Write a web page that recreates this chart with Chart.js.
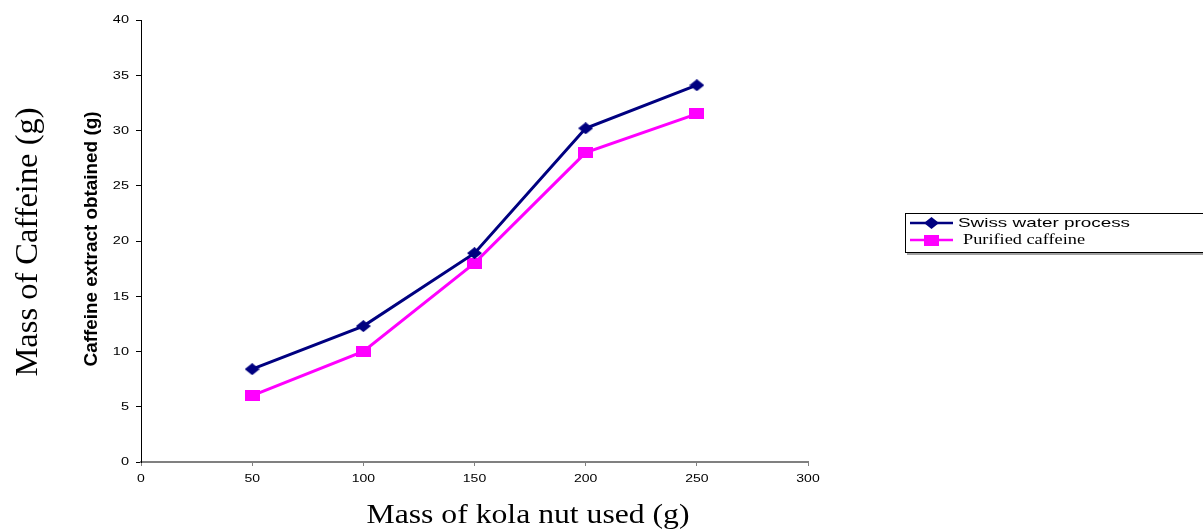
<!DOCTYPE html>
<html>
<head>
<meta charset="utf-8">
<script src="https://cdn.jsdelivr.net/npm/chart.js@4.4.1/dist/chart.umd.min.js"></script>
<style>
html,body{margin:0;padding:0;background:#fff;}
#wrap{width:1203px;height:531px;position:relative;}
</style>
</head>
<body>
<div id="wrap"><canvas id="c" width="1203" height="531"></canvas></div>
<script>
const xValues = [50, 100, 150, 200, 250];
const swissWater = [8.4, 12.3, 18.9, 30.2, 34.1];
const purified = [6.0, 10.0, 18.0, 28.0, 31.5];
const seriesNames = ['Swiss water process', 'Purified caffeine'];
const xTitle = 'Mass of kola nut used (g)';
const yTitleOuter = 'Mass of Caffeine (g)';
const yTitleInner = 'Caffeine extract obtained (g)';

const NAVY = '#000080', MAG = '#FF00FF';

function makeDiamond(w, h, color) {
  const c = document.createElement('canvas');
  c.width = w; c.height = h;
  const g = c.getContext('2d');
  g.fillStyle = color;
  g.beginPath();
  g.moveTo(w/2, 0); g.lineTo(w, h/2); g.lineTo(w/2, h); g.lineTo(0, h/2);
  g.closePath(); g.fill();
  return c;
}
function makeRect(w, h, color) {
  const c = document.createElement('canvas');
  c.width = w; c.height = h;
  const g = c.getContext('2d');
  g.fillStyle = color;
  g.fillRect(0, 0, w, h);
  return c;
}
const diamond = makeDiamond(15, 12, NAVY);
const square = makeRect(15, 11, MAG);

function stretchedText(ctx, text, x, y, sx, align) {
  const w = ctx.measureText(text).width * sx;
  let left = x;
  if (align === 'center') left = x - w / 2;
  else if (align === 'right') left = x - w;
  ctx.save();
  ctx.translate(left, y);
  ctx.scale(sx, 1);
  ctx.textAlign = 'left';
  ctx.fillText(text, 0, 0);
  ctx.restore();
}
function fitText(ctx, text, cx, cy, len, rot) {
  const w = ctx.measureText(text).width;
  ctx.save();
  ctx.translate(cx, cy);
  if (rot) ctx.rotate(rot);
  ctx.scale(len / w, 1);
  ctx.textAlign = 'center';
  ctx.fillText(text, 0, 0);
  ctx.restore();
}

const extras = {
  id: 'extras',
  afterDraw(chart) {
    const ctx = chart.ctx;
    ctx.save();
    ctx.fillStyle = '#000';
    ctx.textBaseline = 'middle';
    // tick labels (from scales)
    ctx.font = '10px "Liberation Sans", Arial, sans-serif';
    const ys = chart.scales.y;
    ys.ticks.forEach(t => {
      stretchedText(ctx, String(t.value), 129, ys.getPixelForValue(t.value) + 0.5, 1.45, 'right');
    });
    const xs = chart.scales.x;
    xs.ticks.forEach(t => {
      stretchedText(ctx, String(t.value), xs.getPixelForValue(t.value), 479, 1.4, 'center');
    });

    // titles
    ctx.textBaseline = 'alphabetic';
    ctx.font = '27px "Liberation Serif", "Times New Roman", serif';
    fitText(ctx, xTitle, 528, 523, 323, 0);
    ctx.font = '31px "Liberation Serif", "Times New Roman", serif';
    fitText(ctx, yTitleOuter, 37, 242, 269, -Math.PI / 2);
    ctx.font = 'bold 19px "Liberation Sans", Arial, sans-serif';
    fitText(ctx, yTitleInner, 97, 239, 255, -Math.PI / 2);

    // legend
    const lx = 905, ly = 213, lw = 300, lh = 39;
    ctx.fillStyle = '#a0a0a0';
    ctx.fillRect(lx + 2, ly + lh, lw, 3);
    ctx.strokeStyle = '#000';
    ctx.lineWidth = 1;
    ctx.strokeRect(lx + 0.5, ly + 0.5, lw, lh);
    const ds = chart.data.datasets;
    const rows = [
      {y: 223, img: diamond, color: NAVY, font: '13px "Liberation Sans", Arial, sans-serif', tx: 958, len: 172},
      {y: 240, img: square, color: MAG, font: '14px "Liberation Serif", "Times New Roman", serif', tx: 963, len: 122}
    ];
    rows.forEach((r, i) => {
      ctx.strokeStyle = r.color;
      ctx.lineWidth = 2.5;
      ctx.beginPath();
      ctx.moveTo(910, r.y); ctx.lineTo(953, r.y);
      ctx.stroke();
      ctx.drawImage(r.img, 931.5 - r.img.width / 2, r.y - r.img.height / 2);
      ctx.fillStyle = '#000';
      ctx.font = r.font;
      ctx.textBaseline = 'middle';
      const w = ctx.measureText(ds[i].label).width;
      stretchedText(ctx, ds[i].label, r.tx, r.y, r.len / w, 'left');
    });
    ctx.restore();
  }
};

new Chart(document.getElementById('c'), {
  type: 'line',
  data: {
    datasets: [
      {
        label: seriesNames[0],
        data: xValues.map((x, i) => ({x: x, y: swissWater[i]})),
        borderColor: NAVY, backgroundColor: NAVY,
        borderWidth: 3, pointStyle: diamond, pointRadius: 7,
        tension: 0, fill: false
      },
      {
        label: seriesNames[1],
        data: xValues.map((x, i) => ({x: x, y: purified[i]})),
        borderColor: MAG, backgroundColor: MAG,
        borderWidth: 3, pointStyle: square, pointRadius: 7,
        tension: 0, fill: false
      }
    ]
  },
  options: {
    responsive: false,
    animation: false,
    devicePixelRatio: 1,
    layout: {padding: {left: 0, right: 395, top: 20, bottom: 0}},
    plugins: {legend: {display: false}, tooltip: {enabled: false}},
    scales: {
      x: {
        type: 'linear', min: 0, max: 300,
        ticks: {stepSize: 50, display: false},
        grid: {display: true, drawOnChartArea: false, drawTicks: true, tickLength: 4, color: '#808080'},
        border: {color: '#808080', width: 2},
        afterFit(s) { s.height = 69; }
      },
      y: {
        type: 'linear', min: 0, max: 40,
        ticks: {stepSize: 5, display: false},
        grid: {display: true, drawOnChartArea: false, drawTicks: true, tickLength: 5, color: '#000'},
        border: {color: '#000', width: 1},
        afterFit(s) { s.width = 141; }
      }
    }
  },
  plugins: [extras]
});
</script>
</body>
</html>
